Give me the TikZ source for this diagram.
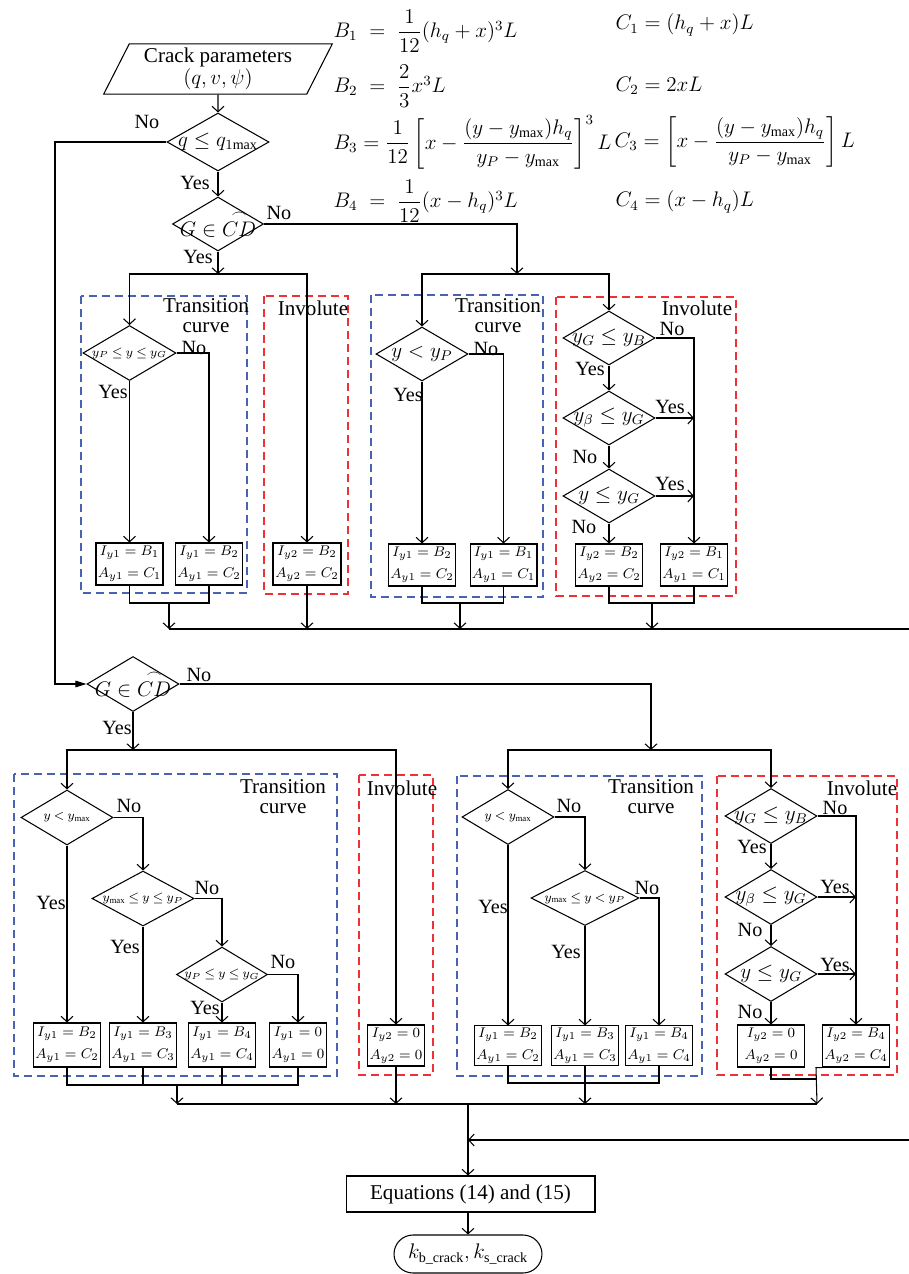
\documentclass[tikz,border=0pt]{standalone}
\usepackage{amsmath}
\usepackage{fontspec}
\setmainfont{Liberation Serif}
\usetikzlibrary{positioning, arrows.meta, shapes.geometric}
\definecolor{dBlue}{HTML}{4A62B2}
\definecolor{dRed}{HTML}{EC3237}
\newcommand{\dtxt}[1]{\makebox[0pt]{#1}}
\newcommand{\sdtxt}[1]{\makebox[0pt]{\thickmuskip=3.5mu\relax#1}}

\begin{document}
\begin{tikzpicture}[x=0.02cm, y=-0.02cm, line width=0.6pt,
  arr/.style={-{Straight Barb[length=1.1mm, width=2.4mm]}},
  dia/.style={diamond, draw, inner sep=0pt, minimum width=1.84cm,
              minimum height=1.1cm, font=\fontsize{12}{12}\selectfont},
  sdia/.style={dia, font=\fontsize{7}{7}\selectfont},
  res/.style={draw, inner sep=1pt, minimum width=1.32cm, minimum height=0.84cm,
              align=center, font=\fontsize{8}{12.5}\selectfont},
  lab/.style={inner sep=0pt, font=\fontsize{11.5}{12}\selectfont},
  ttl/.style={inner sep=0pt, align=center, font=\fontsize{12}{11.5}\selectfont},
  tc/.style={draw=dBlue, dash pattern=on 1.6mm off 1mm},
  inv/.style={draw=dRed, dash pattern=on 1.6mm off 1mm},
  eqn/.style={inner sep=0pt, anchor=west, font=\fontsize{11.5}{12}\selectfont},
]
  \useasboundingbox (0,0) rectangle (909,1274);

  % formulas
  \node[eqn] (B1) at (333,31) {$B_1 \;=\; \dfrac{1}{12}(h_q + x)^3 L$};
  \node[eqn] (B2) at (333,86) {$B_2 \;=\; \dfrac{2}{3}x^3 L$};
  \node[eqn] (B3) at (333,142) {$B_3 = \dfrac{1}{12}\left[x - \dfrac{(y - y_{\max})h_q}{y_P - y_{\max}}\right]^3 L$};
  \node[eqn] (B4) at (333,201) {$B_4 \;=\; \dfrac{1}{12}(x - h_q)^3 L$};
  \node[eqn] (C1) at (615,25) {$C_1 = (h_q + x)L$};
  \node[eqn] (C2) at (615,86) {$C_2 = 2xL$};
  \node[eqn] (C3) at (614,142) {$C_3 = \left[x - \dfrac{(y - y_{\max})h_q}{y_P - y_{\max}}\right]L$};
  \node[eqn] (C4) at (615,202) {$C_4 = (x - h_q)L$};

  % regions
  \draw[tc] (81,296) rectangle (247,593);
  \draw[inv] (264,296) rectangle (348,594);
  \draw[tc] (371,295) rectangle (543,597);
  \draw[inv] (556,297) rectangle (736,596);
  \draw[tc] (14,774) rectangle (337,1076);
  \draw[inv] (359,775) rectangle (433,1075);
  \draw[tc] (457,776) rectangle (702,1076);
  \draw[inv] (717,776) rectangle (897,1075);
  \node[ttl] (t1) at (206,316) {Transition\\curve};
  \node[ttl] (v1) at (313,308) {Involute};
  \node[ttl] (t2) at (498,316) {Transition\\curve};
  \node[ttl] (v2) at (697,308) {Involute};
  \node[ttl] (t3) at (283,797) {Transition\\curve};
  \node[ttl] (v3) at (402,788) {Involute};
  \node[ttl] (t4) at (651,797) {Transition\\curve};
  \node[ttl] (v4) at (862,788) {Involute};

  % top
  \node[trapezium, trapezium left angle=63, trapezium right angle=117, draw,
        minimum width=4.58cm, minimum height=0.88cm, inner sep=0pt, align=center,
        font=\fontsize{12}{10.5}\selectfont] (inp) at (218,69)
        {Crack parameters\\$(q, v, \psi)$};
  \node[dia, minimum width=2.04cm, minimum height=1.16cm] (d1) at (218,142) {\dtxt{$q \le q_{1\mathrm{max}}$}};
  \node[dia, minimum width=1.82cm, minimum height=1.08cm] (d2) at (218,224) {\dtxt{$G \in \overset{\frown}{CD}$}};
  \node[lab] (n1) at (147,122) {No};
  \node[lab] (y1) at (195,183) {Yes};
  \node[lab] (n2) at (279,213) {No};
  \node[lab] (y2) at (198,257) {Yes};
  \coordinate (j1) at (218,274);
  \coordinate (j2) at (517,274);
  \draw[arr] (inp) -- (d1);
  \draw[arr] (d1) -- (d2);
  \draw[arr] (d2) -- (j1);
  \draw[arr] (d2.east) -| (j2);

  % upper transition curve, left
  \node[sdia, minimum width=1.86cm] (a1) at (129.5,353) {\sdtxt{$y_P \le y \le y_G$}};
  \node[lab] (n3) at (194,348) {No};
  \node[lab] (y3) at (113,392) {Yes};
  \node[res] (r11) at (129.5,564) {$I_{y1} = B_1$\\$A_{y1} = C_1$};
  \node[res] (r12) at (209,564) {$I_{y1} = B_2$\\$A_{y1} = C_2$};
  \node[res, minimum width=1.36cm] (r13) at (307,564) {$I_{y2} = B_2$\\$A_{y2} = C_2$};
  \draw[arr] (j1) -| (a1.north);
  \draw[arr] (j1) -| (r13.north);
  \draw[arr] (a1.south) -- (r11.north);
  \draw[arr] (a1.east) -| (r12.north);

  % upper transition curve, right
  \node[dia, minimum height=1.08cm] (b1) at (422,354) {\dtxt{$y < y_P$}};
  \node[lab] (n4) at (486,349) {No};
  \node[lab] (y4) at (408,395) {Yes};
  \node[res] (r21) at (422,565) {$I_{y1} = B_2$\\$A_{y1} = C_2$};
  \node[res] (r22) at (503.5,565) {$I_{y1} = B_1$\\$A_{y1} = C_1$};
  \draw[arr] (j2) -| (b1.north);
  \draw[arr] (b1.south) -- (r21.north);
  \draw[arr] (b1.east) -| (r22.north);

  % upper involute
  \node[dia, minimum height=1.08cm] (c1) at (609,338) {\dtxt{$y_G \le y_B$}};
  \node[dia, minimum height=1.08cm] (c2) at (609,418) {\dtxt{$y_\beta \le y_G$}};
  \node[dia, minimum height=1.08cm] (c3) at (609,496) {\dtxt{$y \le y_G$}};
  \node[lab] (n5) at (672,329) {No};
  \node[lab] (y5) at (590,369) {Yes};
  \node[lab] (y6) at (670,407) {Yes};
  \node[lab] (n6) at (585,457) {No};
  \node[lab] (y7) at (670,484) {Yes};
  \node[lab] (n7) at (584,527) {No};
  \node[res] (r23) at (609,565) {$I_{y2} = B_2$\\$A_{y2} = C_2$};
  \node[res] (r24) at (694,565) {$I_{y2} = B_1$\\$A_{y1} = C_1$};
  \draw[arr] (j2) -| (c1.north);
  \draw[arr] (c1) -- (c2);
  \draw[arr] (c2) -- (c3);
  \draw[arr] (c3) -- (r23);
  \draw[arr] (c1.east) -| (r24.north);
  \draw[arr] (c2.east) -- (c2.east -| r24.north);
  \draw[arr] (c3.east) -- (c3.east -| r24.north);

  % upper collection
  \coordinate (m1) at (169,603);
  \coordinate (m2) at (460,603);
  \coordinate (m3) at (652,603);
  \coordinate (bl) at (169,629);
  \coordinate (br) at (909,629);
  \draw (r11.south) |- (m1) -| (r12.south);
  \draw (r21.south) |- (m2) -| (r22.south);
  \draw (r23.south) |- (m3) -| (r24.south);
  \draw[arr] (m1) -- (bl);
  \draw[arr] (m2) -- (m2 |- bl);
  \draw[arr] (m3) -- (m3 |- bl);
  \draw[arr] (r13.south) -- (r13.south |- bl);
  \draw (bl) -- (br);

  % second check
  \node[dia] (d3) at (133,684) {\dtxt{$G \in \overset{\frown}{CD}$}};
  \node[lab] (n8) at (199,675) {No};
  \node[lab] (y8) at (117,728) {Yes};
  \coordinate (lft) at (55,684);
  \coordinate (j3) at (133,750);
  \coordinate (j4) at (651,750);
  \draw[-{Triangle[length=2.2mm, width=1.3mm]}] (d1.west) -| (lft) -- (d3.west);
  \draw[arr] (d3) -- (j3);
  \draw[arr] (d3.east) -| (j4);

  % lower transition curve, left
  \node[sdia] (e1) at (67,817.5) {\sdtxt{$y < y_{\max}$}};
  \node[sdia, minimum width=2.04cm] (e2) at (143,898.5) {\sdtxt{$y_{\max} \le y \le y_P$}};
  \node[sdia, minimum width=1.82cm] (e3) at (222,974.5) {\sdtxt{$y_P \le y \le y_G$}};
  \node[lab] (n9) at (129,806) {No};
  \node[lab] (y9) at (51,903) {Yes};
  \node[lab] (n10) at (207,888) {No};
  \node[lab] (y10) at (125,947) {Yes};
  \node[lab] (n11) at (283,962) {No};
  \node[lab] (y11) at (205,1008) {Yes};
  \node[res, minimum width=1.2cm, minimum height=0.88cm] (q1) at (67,1045) {$I_{y1} = B_2$\\$A_{y1} = C_2$};
  \node[res, minimum width=1.18cm, minimum height=0.88cm] (q2) at (143,1045) {$I_{y1} = B_3$\\$A_{y1} = C_3$};
  \node[res, minimum width=1.16cm, minimum height=0.88cm] (q3) at (222,1045) {$I_{y1} = B_4$\\$A_{y1} = C_4$};
  \node[res, minimum width=1.14cm, minimum height=0.88cm] (q4) at (298,1045) {$I_{y1} = 0$\\$A_{y1} = 0$};
  \node[res, minimum width=1.12cm, minimum height=0.82cm] (q5) at (396,1045.5) {$I_{y2} = 0$\\$A_{y2} = 0$};
  \draw[arr] (j3) -| (e1.north);
  \draw[arr] (j3) -| (q5.north);
  \draw[arr] (e1.east) -| (e2.north);
  \draw[arr] (e2.east) -| (e3.north);
  \draw[arr] (e1.south) -- (q1.north);
  \draw[arr] (e2.south) -- (q2.north);
  \draw[arr] (e3.south) -- (q3.north);
  \draw[arr] (e3.east) -| (q4.north);

  % lower transition curve, right
  \node[sdia] (f1) at (508,817) {\sdtxt{$y < y_{\max}$}};
  \node[sdia, minimum width=2.16cm] (f2) at (585,898) {\sdtxt{$y_{\max} \le y < y_P$}};
  \node[lab] (n12) at (569,806) {No};
  \node[lab] (y12) at (493,907) {Yes};
  \node[lab] (n13) at (647,888) {No};
  \node[lab] (y13) at (566,952) {Yes};
  \node[res, minimum width=1.18cm, minimum height=0.78cm] (p1) at (508,1045.5) {$I_{y1} = B_2$\\$A_{y1} = C_2$};
  \node[res, minimum width=1.18cm, minimum height=0.78cm] (p2) at (585,1045.5) {$I_{y1} = B_3$\\$A_{y1} = C_3$};
  \node[res, minimum width=1.2cm, minimum height=0.78cm] (p3) at (659,1045.5) {$I_{y1} = B_4$\\$A_{y1} = C_4$};
  \draw[arr] (j4) -| (f1.north);
  \draw[arr] (f1.east) -| (f2.north);
  \draw[arr] (f1.south) -- (p1.north);
  \draw[arr] (f2.south) -- (p2.north);
  \draw[arr] (f2.east) -| (p3.north);

  % lower involute
  \node[dia] (g1) at (771,816) {\dtxt{$y_G \le y_B$}};
  \node[dia] (g2) at (771,897) {\dtxt{$y_\beta \le y_G$}};
  \node[dia] (g3) at (771,974) {\dtxt{$y \le y_G$}};
  \node[lab] (n14) at (835,808) {No};
  \node[lab] (y14) at (752,847) {Yes};
  \node[lab] (y15) at (835,887) {Yes};
  \node[lab] (n15) at (750,930) {No};
  \node[lab] (y16) at (835,965) {Yes};
  \node[lab] (n16) at (750,1012) {No};
  \node[res, minimum width=1.34cm] (p4) at (771,1046) {$I_{y2} = 0$\\$A_{y2} = 0$};
  \node[res, minimum width=1.3cm] (p5) at (856,1046) {$I_{y2} = B_4$\\$A_{y2} = C_4$};
  \draw[arr] (j4) -| (g1.north);
  \draw[arr] (g1) -- (g2);
  \draw[arr] (g2) -- (g3);
  \draw[arr] (g3) -- (p4);
  \draw[arr] (g1.east) -| (p5.north);
  \draw[arr] (g2.east) -- (g2.east -| p5.north);
  \draw[arr] (g3.east) -- (g3.east -| p5.north);

  % lower collection
  \coordinate (m4) at (177,1085);
  \coordinate (m5) at (585,1083);
  \coordinate (m6) at (817,1079);
  \coordinate (b2l) at (177,1104);
  \coordinate (b2r) at (817,1104);
  \draw (q1.south) |- (m4) -| (q4.south);
  \draw (q2.south) -- (q2.south |- m4);
  \draw (q3.south) -- (q3.south |- m4);
  \draw[arr] (m4) -- (b2l);
  \draw[arr] (q5.south) -- (q5.south |- b2l);
  \draw (p1.south) |- (m5) -| (p3.south);
  \draw[arr] (p2.south) -- (p2.south |- b2l);
  \draw (p4.south) |- (m6);
  \draw[arr] (p5.south west) -- ++(-6,0) -- (b2r);
  \draw (b2l) -- (b2r);

  % result
  \node[draw, minimum width=4.98cm, minimum height=0.72cm,
        font=\fontsize{12}{12}\selectfont] (eq) at (470.5,1194) {Equations (14) and (15)};
  \node[draw, rounded corners=0.38cm, minimum width=2.96cm, minimum height=0.76cm,
        font=\fontsize{12}{12}\selectfont] (out) at (468,1254)
        {$k_{\mathrm{b\_crack}}, k_{\mathrm{s\_crack}}$};
  \coordinate (mj) at (468,1104);
  \coordinate (si) at (909,1140);
  \draw[arr] (mj) -- (mj |- eq.north);
  \draw[arr] (si) -- (si -| mj);
  \draw[arr] (eq.south -| out) -- (out.north);
\end{tikzpicture}
\end{document}
